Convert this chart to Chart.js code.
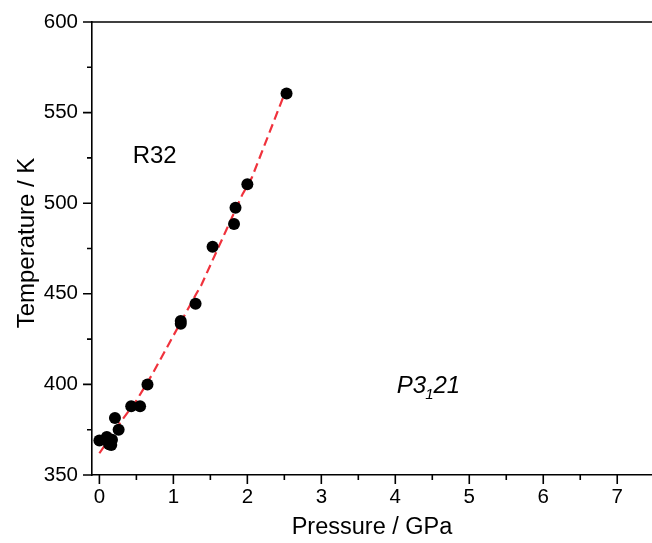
<!DOCTYPE html>
<html><head><meta charset="utf-8">
<style>html,body{margin:0;padding:0;background:#fff}#wrap{width:652px;height:543px}</style>
<script src="https://cdn.jsdelivr.net/npm/chart.js@4/dist/chart.umd.min.js"></script>
</head><body><div id="wrap"><canvas id="c" width="652" height="543"></canvas></div>
<script>
// Measured points (pressure in GPa, temperature in K)
const pressure    = [0.00, 0.10, 0.13, 0.16, 0.17, 0.21, 0.26, 0.43, 0.55, 0.65, 1.10, 1.10, 1.30, 1.53, 1.82, 1.84, 2.00, 2.53];
const temperature = [369, 371, 367, 366.5, 369.5, 381.5, 375, 388, 388, 400, 433.5, 435, 444.5, 476, 488.5, 497.5, 510.5, 560.5];
// Dashed phase boundary
const fitPressure    = [0.00, 0.30, 0.50, 0.72, 1.31, 1.38, 1.935, 2.06, 2.48, 2.52];
const fitTemperature = [362, 380, 391, 406, 450, 455, 505, 514, 558, 560.5];
// Axis ticks
const xTicks = [0, 1, 2, 3, 4, 5, 6, 7];
const xMinorTicks = [0.5, 1.5, 2.5, 3.5, 4.5, 5.5, 6.5];
const yTicks = [350, 400, 450, 500, 550, 600];
const yMinorTicks = [375, 425, 475, 525, 575];
const xTitle = 'Pressure / GPa';
const yTitle = 'Temperature / K';

const FONT = "'Liberation Sans', Arial, sans-serif";

const pts = pressure.map((p, i) => ({x: p, y: temperature[i]}));
const fit = fitPressure.map((p, i) => ({x: p, y: fitTemperature[i]}));

const decor = {
  id: 'decor',
  afterDraw(chart) {
    const {ctx, chartArea: a, scales: {x, y}} = chart;
    ctx.save();
    ctx.strokeStyle = '#000';
    ctx.lineWidth = 1.6;
    // top frame
    ctx.beginPath(); ctx.moveTo(a.left, a.top); ctx.lineTo(a.right, a.top); ctx.stroke();
    // ticks
    ctx.beginPath();
    xTicks.forEach(v => { const px = x.getPixelForValue(v); ctx.moveTo(px, a.bottom); ctx.lineTo(px, a.bottom + 9); });
    xMinorTicks.forEach(v => { const px = x.getPixelForValue(v); ctx.moveTo(px, a.bottom); ctx.lineTo(px, a.bottom + 5); });
    yTicks.forEach(v => { const py = y.getPixelForValue(v); ctx.moveTo(a.left, py); ctx.lineTo(a.left - 9, py); });
    yMinorTicks.forEach(v => { const py = y.getPixelForValue(v); ctx.moveTo(a.left, py); ctx.lineTo(a.left - 5, py); });
    ctx.stroke();
    // titles
    ctx.fillStyle = '#000';
    ctx.font = '23.5px ' + FONT;
    ctx.textAlign = 'center'; ctx.textBaseline = 'middle';
    ctx.fillText(xTitle, 372, 528);
    ctx.save();
    ctx.translate(27, 243); ctx.rotate(-Math.PI / 2);
    ctx.font = '24px ' + FONT;
    ctx.fillText(yTitle, 0, 0);
    ctx.restore();
    // annotations
    ctx.textAlign = 'left'; ctx.textBaseline = 'alphabetic';
    ctx.font = '24px ' + FONT;
    ctx.fillText('R32', x.getPixelForValue(0.45), y.getPixelForValue(522));
    let px = x.getPixelForValue(4.02), py = y.getPixelForValue(395.5);
    ctx.font = 'italic 24px ' + FONT;
    ctx.fillText('P3', px, py); px += ctx.measureText('P3').width;
    ctx.font = 'italic 15px ' + FONT;
    ctx.fillText('1', px - 1, py + 6); px += ctx.measureText('1').width - 1;
    ctx.font = 'italic 24px ' + FONT;
    ctx.fillText('21', px, py);
    ctx.restore();
  }
};

new Chart(document.getElementById('c'), {
  type: 'scatter',
  data: {datasets: [
    {data: pts, order: 0, backgroundColor: '#000', borderColor: '#000', pointRadius: 6, pointHoverRadius: 6, borderWidth: 0},
    {data: fit, order: 1, showLine: true, pointRadius: 0, borderColor: '#f0323c', borderWidth: 2.2, borderDash: [9, 5], fill: false, tension: 0}
  ]},
  options: {
    responsive: false, devicePixelRatio: 1, animation: false,
    layout: {autoPadding: false, padding: {top: 22, right: 0, left: 0, bottom: 0}},
    plugins: {legend: {display: false}, tooltip: {enabled: false}},
    scales: {
      x: {type: 'linear', min: -0.1, max: 7.47,
        afterBuildTicks: s => { s.ticks = xTicks.map(v => ({value: v})); },
        afterFit: s => { s.height = 68; s.paddingLeft = 0; s.paddingRight = 0; },
        ticks: {color: '#000', font: {family: FONT, size: 20.5}, padding: 10, maxRotation: 0, autoSkip: false},
        grid: {display: false, drawTicks: false},
        border: {display: true, color: '#000', width: 1.6}},
      y: {type: 'linear', min: 350, max: 600,
        afterBuildTicks: s => { s.ticks = yTicks.map(v => ({value: v})); },
        afterFit: s => { s.width = 92; s.paddingTop = 0; s.paddingBottom = 0; },
        ticks: {color: '#000', font: {family: FONT, size: 20.5}, padding: 14, autoSkip: false},
        grid: {display: false, drawTicks: false},
        border: {display: true, color: '#000', width: 1.6}}
    }
  },
  plugins: [decor]
});
</script></body></html>
